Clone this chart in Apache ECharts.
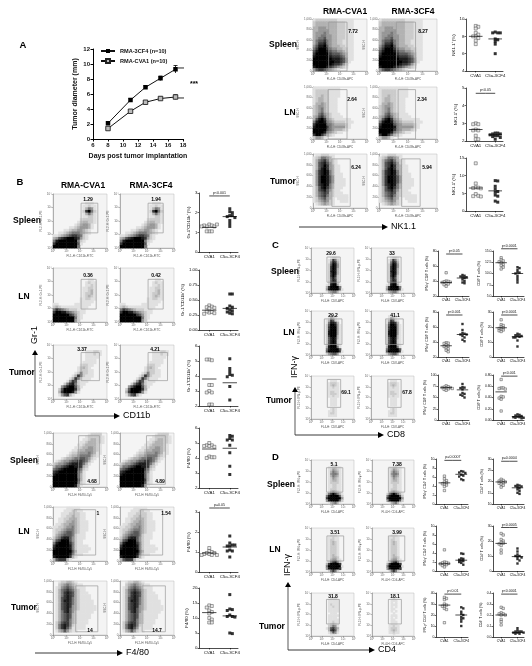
<!DOCTYPE html>
<html>
<head>
<meta charset="utf-8">
<style>
  html, body { margin: 0; padding: 0; background: #fff; }
  #main { width: 532px; height: 666px; }
</style>
<script src="https://cdn.jsdelivr.net/npm/echarts@6/dist/echarts.min.js"></script>
</head>
<body>
<div id="main"></div>
<script>
// panel A
var days = [8, 11, 13, 15, 17];
var cf4Diameter = [2.1, 5.2, 6.9, 8.1, 9.3];
var cva1Diameter = [1.4, 3.7, 4.9, 5.4, 5.6];
var cf4Err = [0.2, 0.2, 0.2, 0.3, 0.5];
var cva1Err = [0.1, 0.2, 0.2, 0.2, 0.3];

// strip plots, estimated off a low-res picture (CVA1 / C5a-3CF4)
// the smallest p labels and some tick labels in C and D are barely legible, best guesses
var grSpleenCva = [1.4, 1.35, 1.3, 1.3, 1.35, 1.4, 1.05, 1.05, 1.05, 1.3];
var grSpleenC5a = [2.2, 2.05, 2.0, 1.85, 1.85, 1.8, 1.75, 1.6, 1.45, 1.3];
var grLnCva = [0.41, 0.39, 0.38, 0.37, 0.36, 0.29, 0.3, 0.31, 0.28, 0.27];
var grLnC5a = [0.6, 0.6, 0.4, 0.38, 0.36, 0.33, 0.32, 0.3, 0.28, 0.27];
var grTumorCva = [5.1, 5.05, 5.1, 3.4, 3.4, 3.0, 2.9, 2.9, 2.1, 2.1];
var grTumorC5a = [5.15, 4.5, 4.3, 4.1, 4.05, 3.95, 3.3, 2.4];
var f4SpleenCva = [5.0, 4.85, 4.85, 4.8, 4.75, 4.8, 4.1, 4.05, 4.0, 4.05];
var f4SpleenC5a = [5.5, 5.45, 5.3, 5.2, 5.2, 4.85, 4.35, 3.45, 2.9];
var f4LnCva = [1.2, 1.05, 1.0, 0.95, 0.95, 0.9, 0.9, 0.85, 0.85, 0.85];
var f4LnC5a = [1.8, 1.45, 1.35, 1.3, 1.3, 1.35, 1.1, 1.05, 1.05, 0.75];
var f4TumorCva = [14.2, 14, 13.5, 12.5, 12, 11.5, 10, 9.5, 8.5, 8.5];
var f4TumorC5a = [17.8, 13, 12.8, 12.5, 11, 10.5, 10.5, 10.3, 5, 4.8];
var nkSpleenCva = [9.2, 9.1, 8.9, 8.4, 8.2, 8.0, 8.0, 7.8, 7.5, 7.1];
var nkSpleenC5a = [8.5, 8.4, 8.4, 8.4, 7.7, 7.6, 7.4, 7.1, 6];
var nkLnCva = [3.0, 2.95, 2.95, 2.65, 2.6, 2.6, 2.3, 2.1, 2.1];
var nkLnC5a = [2.45, 2.45, 2.4, 2.4, 2.35, 2.3, 2.3, 2.25, 2.2, 2.1];
var nkTumorCva = [13.5, 7.8, 6.7, 6.6, 6.5, 6.4, 4.8, 4.3, 4.2, 4.1];
var nkTumorC5a = [8.6, 8.5, 7, 6.2, 5.5, 5.3, 4.5, 4.2, 2.8, 2.5];
var cIfnSpleenCva = [51, 40, 39.5, 39, 38.5, 38, 37, 36, 35, 33];
var cIfnSpleenC5a = [48, 47, 46, 45, 45, 44, 42, 40, 38, 37];
var cCd8SpleenCva = [13.5, 13, 12.8, 12.6, 12.4, 12, 11.8, 11.4, 11];
var cCd8SpleenC5a = [11.4, 11.2, 10.8, 10.3, 10.2, 10, 9.5, 9, 8.5, 8.0];
var cIfnLnCva = [39, 38.5, 38, 36, 35, 34, 32, 31, 29, 27];
var cIfnLnC5a = [64, 56, 52, 51, 50, 50, 48, 46, 43, 41];
var cCd8LnCva = [24.8, 21.5, 21, 20, 19.5, 19, 18.5, 18, 17.5, 17];
var cCd8LnC5a = [15.5, 15, 14.5, 14, 14, 13.5, 13, 13, 11, 7];
var cIfnTumorCva = [76, 74, 73, 72, 72, 71, 70, 69, 68, 66];
var cIfnTumorC5a = [80, 73, 72, 71, 68, 60, 58, 56, 54, 50];
var cCd8TumorCva = [0.72, 0.57, 0.57, 0.56, 0.55, 0.42, 0.41, 0.39, 0.37, 0.16];
var cCd8TumorC5a = [0.1, 0.09, 0.08, 0.07, 0.06, 0.05, 0.05, 0.04, 0.04, 0.03];
var dIfnSpleenCva = [6.2, 5.6, 5.2, 4.9, 4.7, 4.5, 4.4, 4.2, 3.9, 3];
var dIfnSpleenC5a = [7.3, 7.2, 7, 6.9, 6.5, 6.3, 6.1, 5.5, 5.3];
var dCd4SpleenCva = [21, 20.5, 20.2, 20, 19.8, 19.5, 19.2, 18.8, 18.3, 17.5];
var dCd4SpleenC5a = [18.5, 18.2, 18, 17.8, 17.5, 17, 16.5, 15.8, 15, 14.5];
var dIfnLnCva = [4.7, 2.0, 1.9, 1.8, 1.7, 1.6, 1.5, 1.4, 1.2, 0.9];
var dIfnLnC5a = [3.9, 3.8, 2.8, 2.7, 2.5, 2.3, 2.2, 2.0, 1.8, 1.4];
var dCd4LnCva = [25, 24, 21, 20, 19, 18.5, 18, 17, 14, 12];
var dCd4LnC5a = [15, 13, 11, 10, 10, 9.5, 9, 8, 7, 5];
var dIfnTumorCva = [36, 35, 34, 30, 29, 28, 28, 26, 25, 13];
var dIfnTumorC5a = [27, 26, 23, 21, 20, 18, 17, 16, 14, 10];
var dCd4TumorCva = [0.27, 0.26, 0.22, 0.21, 0.21, 0.2, 0.2, 0.16, 0.14, 0.11];
var dCd4TumorC5a = [0.08, 0.06, 0.05, 0.05, 0.05, 0.04, 0.04, 0.04, 0.03, 0.03];

// flow cytometry: single events can't be read, so this is coarse density by eye
// 20x20, one digit per cell, 0 empty .. 9 black, top row first
var grSpleen = ['00000000000000000000','00000000000000000000','00000000000000000000','00000000000011100000','00000000000112110000','00000000000135410000','00000000000279520000','00000000000135310000','00000000000112210000','00000000001222210000','00000000012332210000','00000000123443100000','00000011234443100000','00001123344321000000','00112345554321000000','11234567765210000000','34678999874210000000','58999999952100000000','79999999961000000000','99999999950000000000'];
var grLn = ['00000000000000000000','00000000000000000000','00000000000000000000','00000000000000000000','00000000000001100000','00000000000012110000','00000000000011210000','00000000000112210000','00000000000112310000','00000000000122310000','00000000000123210000','00000000001122110000','00000000001111100000','11000000111111000000','23211111111110000000','57654322211100000000','79988654321100000000','99999976421000000000','99999999521000000000','99999999420000000000'];
var grTumor = ['00000000000000000000','00000000000000000000','00000000000011122100','00000000000011121100','00000000000011111000','00000000000011110000','00000000000111110000','00000000001221100000','00000000012321000000','00000000012221100000','00000000125221100000','00000001375211100000','00000013752111000000','00000147621110000000','00002578521100000000','00046899631000000000','00269999730000000000','00379998410000000000','00146731000000000000','00000000000000000000'];
var f4Spleen = ['00000000000001222200','00000000000012222210','00000000000112332210','00000000001123332210','00000000011233332100','00000000112334432100','00000001123344432100','00000012234445431100','00000123345555321000','00012334556654210000','01234456677653100000','23445678887531000000','35567899887320000000','56789999975210000000','78999999964100000000','89999999963100000000','99999999963100000000','99999999973100000000','99999999962100000000','99999999841000000000'];
var f4Ln = ['00000111110000000000','00001112211000000000','00011122221100000000','00011223221100000000','00112233321100000000','00112334321110000000','01123344321110000000','11223445321110000000','12234555321110000000','12345665321100000000','13456665211100000000','24578864211100000000','36799964211000000000','58999975211000000000','79999985211110000000','89999985211111000000','99999996311110000000','99999985211000000000','89999973100000000000','36777310000000000000'];
var f4Tumor = ['00122332100000000000','00234543211000000000','01245654211100000000','01356765321100000000','01357876321110000000','01357876321111000000','01367875321111000000','01368875321111100000','01367875321111100000','01367874321111110000','01367864321111110000','01357864211111100000','01356763211111000000','01356763211111000000','01356753211110000000','02467753211110000000','02578752111100000000','02578641111100000000','01346421100000000000','00000000000000000000'];
var nkSpleen = ['12222222211111100000','23333333322211100000','23333333322211100000','33444333322211100000','33444433322211100000','34445433322211100000','34455443322211100000','34556443322211100000','35667543322111100000','35778543322111100000','46889643332211100000','57999754433221100000','68999865544321100000','79999976665431100000','89999987776531100000','99999998887641100000','99999999887641000000','99999998776420000000','89999876543210000000','46776543210000000000'];
var nkLn = ['11111111110000000000','12222211110000000000','12222211110000000000','12232211110000000000','12332211100000000000','12332211100000000000','13343211100000000000','23443211100000000000','23453211100000000000','23453211100000000000','23564321110000000000','34675321111000000000','36897432111111000000','58998543222211100000','79999654333321000000','89999854444421000000','99999754333210000000','99998543211000000000','79975321000000000000','24431000000000000000'];
var nkTumor = ['01122211000000000000','12355431000000000000','13567532100000000000','13678642100000000000','13679743110000000000','13689743110000000000','14789853110000000000','14789853111000000000','14799864111000000000','14799864111100000000','14799864111100000000','14789853111100000000','13689753111000000000','13678642110000000000','13567632111000000000','13567532111110000000','12456431011110000000','12345421001110000000','01234321000000000000','00000000000000000000'];
var cd8Spleen = ['00000000000000000000','00000000000000000000','00000000000000000000','00000000000000000000','00000000012210000000','00000000137520000000','00000000158730000000','00000000269840000000','00000000279840000000','00000000279830000000','00000000289830000000','00000000279830000000','00000000279720000000','00000000268620000000','00000000268720000000','00000000278820000000','00000001289941000000','00000003799995000000','00000004899996100000','00000001345531000000'];
var cd8Ln = ['00000000000000000000','00000000000000000000','00000000111100000000','00000000143100000000','00000001376210000000','00000001588730000000','00000002699841000000','00000002799941000000','00000002799941000000','00000002899941000000','00000002899941000000','00000002799931000000','00000002689831000000','00000002689821000000','00000002689821000000','00000002799931000000','00000003899951000000','00000005899996000000','00000006999997100000','00000002456641000000'];
var cd8Tumor = ['00000000000000000000','00000000000000000000','00000000011100000000','00000000122210000000','00000000123210000000','00000000112110000000','00000000111110000000','00000000122110000000','00000000122210000000','00000000112110000000','00000000011100000000','00000000011100000000','00000000011100000000','00000000011100000000','00000000000000000000','00000000012100000000','00000000112100000000','00000000122100000000','00000000111100000000','00000000000000000000'];
var cd4Spleen = ['00000000000000000000','00000000000000000000','00000000000100000000','00000000112211000000','00000000124321000000','00000000135431000000','00000000145541000000','00000000135431000000','00000000124321000000','00000000123321000000','00000000122221000000','00000000112211000000','00000000112211000000','00000000122211000000','00000000134321000000','00000002579753100000','00000005899996200000','00000007999999400000','00000004899996200000','00000000134531000000'];
var cd4Ln = ['00000000000000000000','00000000000000000000','00000000000000000000','00000000011100000000','00000000112110000000','00000000122110000000','00000000123210000000','00000000123210000000','00000000122210000000','00000000122210000000','00000000122210000000','00000000122210000000','00000000123210000000','00000000123320000000','00000000134421000000','00000001257852000000','00000003799997000000','00000005999999100000','00000004899997000000','00000000257520000000'];
var cd4TumorA = ['00000000000000000000','00000000000000000000','00000000011100000000','00000000111110000000','00000000111110000000','00000000121110000000','00000000112110000000','00000000111110000000','00000000111110000000','00000000011100000000','00000000111110000000','00000000111100000000','00000000111110000000','00000000112110000000','00000000123210000000','00000000235410000000','00000001367530000000','00000000378620000000','00000000136410000000','00000000011000000000'];
var cd4TumorB = ['00000000000000000000','00000000000000000000','00000000001000000000','00000000011100000000','00000000010100000000','00000000011100000000','00000000010100000000','00000000011000000000','00000000010100000000','00000000001000000000','00000000011100000000','00000000010100000000','00000000011000000000','00000000011100000000','00000000011100000000','00000000112110000000','00000000122210000000','00000000123210000000','00000000112110000000','00000000001000000000'];

var stripLabels = ['CVA1', 'C5a-3CF4'];
var densityColors = ['#f4f4f4', '#e0e0e0', '#cbcbcb', '#b2b2b2', '#979797', '#787878', '#585858', '#383838', '#1b1b1b', '#000000'];

var grids = [], xAxes = [], yAxes = [], series = [], graphics = [], heatIdx = [];
var font = 'Arial, "Liberation Sans", sans-serif';

function txt(x, y, s, size, bold, rot, align, color) {
  graphics.push({
    type: 'text', x: x, y: y, z: 100, rotation: rot || 0, silent: true,
    style: { text: s, fontSize: size, fontFamily: font, fontWeight: bold ? 'bold' : 'normal',
      fill: color || '#000', textAlign: align || 'center', textVerticalAlign: 'middle' }
  });
}

function horArrow(x0, x1, y, label) {
  graphics.push({ type: 'line', z: 100, silent: true, shape: { x1: x0, y1: y, x2: x1 - 5, y2: y }, style: { stroke: '#222', lineWidth: 0.9 } });
  graphics.push({ type: 'polygon', z: 100, silent: true, shape: { points: [[x1 - 6, y - 3], [x1 - 6, y + 3], [x1, y]] }, style: { fill: '#000' } });
  txt(x1 + 3, y, label, 9, false, 0, 'left');
}

// axis arrows: corner at x,yBottom, up to yTop, right to xEnd
function arrows(x, yBottom, yTop, xEnd, hor, ver) {
  graphics.push({ type: 'line', z: 100, silent: true, shape: { x1: x, y1: yBottom, x2: x, y2: yTop + 4 }, style: { stroke: '#888', lineWidth: 1.4 } });
  graphics.push({ type: 'polygon', z: 100, silent: true, shape: { points: [[x - 3, yTop + 5], [x + 3, yTop + 5], [x, yTop]] }, style: { fill: '#000' } });
  horArrow(x, xEnd, yBottom, hor);
  txt(x, ver[1], ver[0], 9, false, Math.PI / 2);
}

function addGrid(x0, x1, y0, y1, extra) {
  var g = { left: x0, top: y0, width: x1 - x0, height: y1 - y0 };
  for (var k in extra) g[k] = extra[k];
  grids.push(g);
  return grids.length - 1;
}

function addFlow(box, matrix, gate, pct, px, py, xName, yName, ssc) {
  var g = addGrid(box[0], box[1], box[2], box[3], { show: true, backgroundColor: densityColors[0], borderColor: '#bbb', borderWidth: 0.5 });
  var yMax = ssc ? 1000 : 4;
  var cats = [];
  for (var i = 0; i < 20; i++) cats.push(i);
  var thin = { color: '#666', fontSize: 3, fontFamily: font, margin: 1.5 };
  var thinLine = { show: true, lineStyle: { color: '#777', width: 0.5 } };
  var thinTick = { show: true, length: 1.5, lineStyle: { color: '#777', width: 0.5 } };
  // category pair for the density cells
  xAxes.push({ type: 'category', gridIndex: g, data: cats, show: false, position: 'top' });
  yAxes.push({ type: 'category', gridIndex: g, data: cats, show: false, position: 'right' });
  var xCat = xAxes.length - 1, yCat = yAxes.length - 1;
  // value pair for ticks and the gate
  xAxes.push({ type: 'value', gridIndex: g, position: 'bottom', min: 0, max: 4, interval: 1, splitLine: { show: false },
    axisLine: thinLine, axisTick: thinTick, axisLabel: Object.assign({ formatter: function (v) { return '10' + '⁰¹²³⁴'.charAt(v); } }, thin),
    name: xName, nameLocation: 'middle', nameGap: 7, nameTextStyle: { fontSize: 3, color: '#555', fontFamily: font } });
  yAxes.push({ type: 'value', gridIndex: g, position: 'left', min: 0, max: yMax, interval: ssc ? 200 : 1, splitLine: { show: false },
    axisLine: thinLine, axisTick: thinTick,
    axisLabel: Object.assign({ formatter: ssc ? '{value}' : function (v) { return '10' + '⁰¹²³⁴'.charAt(v); } }, thin),
    name: yName, nameLocation: 'middle', nameGap: ssc ? 9 : 7, nameTextStyle: { fontSize: 3, color: '#555', fontFamily: font } });
  var xVal = xAxes.length - 1, yVal = yAxes.length - 1;

  var cells = [];
  matrix.forEach(function (row, r) {
    for (var c = 0; c < 20; c++) {
      var v = +row.charAt(c);
      if (v > 0) cells.push([c, 19 - r, v]);
    }
  });
  heatIdx.push(series.length);
  series.push({ type: 'heatmap', xAxisIndex: xCat, yAxisIndex: yCat, data: cells, silent: true, animation: false, progressive: 0 });

  var gx0 = gate[0] * 4, gx1 = gate[1] * 4, gyT = (1 - gate[2]) * yMax, gyB = (1 - gate[3]) * yMax;
  series.push({ type: 'line', xAxisIndex: xVal, yAxisIndex: yVal, symbol: 'none', silent: true, animation: false,
    data: [[gx0, gyT], [gx1, gyT], [gx1, gyB], [gx0, gyB], [gx0, gyT]],
    lineStyle: { color: '#999', width: 0.7 } });
  txt(px, py, pct, 5, true);
}

// simple bee swarm so tied values sit side by side
function swarm(values, center, min, max, w, h, size) {
  var pxX = w / 3.8, pxY = h / (max - min), placed = [];
  return values.map(function (v) {
    var off = 0, n = 0;
    while (placed.some(function (p) {
      var dx = (p[0] - (center + off)) * pxX, dy = (p[1] - v) * pxY;
      return dx * dx + dy * dy < size * size * 0.7;
    }) && n < 12) {
      n++;
      off = (n % 2 ? 1 : -1) * Math.ceil(n / 2) * size * 0.85 / pxX;
    }
    placed.push([center + off, v]);
    return [center + off, v];
  });
}

function addStrip(box, min, max, step, dec, yName, cva, c5a, means, p, pY) {
  var g = addGrid(box[0], box[1], box[2], box[3]);
  var w = box[1] - box[0], h = box[3] - box[2];
  var small = w < 35;
  var fs = small ? 3.4 : 4.4, mark = small ? 2.4 : 3;
  xAxes.push({ type: 'value', gridIndex: g, min: 0, max: 3.8, splitLine: { show: false },
    axisLine: { show: true, onZero: false, lineStyle: { color: '#000', width: 0.7 } },
    axisTick: { show: true, length: 1.5, customValues: [1, 3], lineStyle: { color: '#000', width: 0.6 } },
    axisLabel: { customValues: [1, 3], formatter: function (v) { return stripLabels[v === 1 ? 0 : 1]; }, fontSize: fs, fontFamily: font, color: '#111', margin: 2.5, hideOverlap: false } });
  yAxes.push({ type: 'value', gridIndex: g, min: min, max: max, interval: step, splitLine: { show: false },
    axisLine: { show: true, lineStyle: { color: '#000', width: 0.7 } },
    axisTick: { show: true, length: 1.5, lineStyle: { color: '#000', width: 0.6 } },
    axisLabel: { formatter: function (v) { return v.toFixed(dec); }, fontSize: fs, fontFamily: font, color: '#111', margin: 1.5 },
    name: yName, nameLocation: 'middle', nameGap: small ? (dec > 0 ? 10 : 7) : (dec > 1 ? 12 : 8), nameTextStyle: { fontSize: fs, fontFamily: font, color: '#111' } });
  var xi = xAxes.length - 1, yi = yAxes.length - 1;
  series.push({ type: 'scatter', xAxisIndex: xi, yAxisIndex: yi, symbol: 'rect', symbolSize: mark, clip: false, silent: true, animation: false,
    data: swarm(cva, 1, min, max, w, h, mark), itemStyle: { color: '#e6e6e6', borderColor: '#444', borderWidth: 0.6 } });
  series.push({ type: 'scatter', xAxisIndex: xi, yAxisIndex: yi, symbol: 'rect', symbolSize: mark, clip: false, silent: true, animation: false,
    data: swarm(c5a, 3, min, max, w, h, mark), itemStyle: { color: '#000' } });
  [[1, means[0]], [3, means[1]]].forEach(function (m) {
    series.push({ type: 'line', xAxisIndex: xi, yAxisIndex: yi, symbol: 'none', silent: true, animation: false, clip: false,
      data: [[m[0] - 0.7, m[1]], [m[0] + 0.7, m[1]]], lineStyle: { color: '#000', width: 0.7 } });
  });
  if (p) {
    series.push({ type: 'line', xAxisIndex: xi, yAxisIndex: yi, symbol: 'circle', symbolSize: 0, silent: true, animation: false, clip: false,
      data: [[1, pY], { value: [2, pY], label: { show: true, formatter: p, position: 'top', distance: 1, fontSize: 3.6, fontFamily: font, color: '#111' } }, [3, pY]],
      lineStyle: { color: '#000', width: 0.7 } });
  }
}

// ---- panel B ----
var bL = [53, 107], bR = [120, 174], gr = ['FL1-H: CD11b-FITC', 'FL2-H: Gr-1-PE'], f4 = ['FL2-H: F4/80-Cy5', 'SSC-H'];
addFlow([bL[0], bL[1], 194, 248], grSpleen, [.52, .83, .17, .72], '1.29', 88, 200, gr[0], gr[1]);
addFlow([bR[0], bR[1], 194, 248], grSpleen, [.52, .80, .17, .72], '1.94', 156, 200, gr[0], gr[1]);
addFlow([bL[0], bL[1], 268, 322], grLn, [.52, .80, .21, .76], '0.36', 88, 276, gr[0], gr[1]);
addFlow([bR[0], bR[1], 268, 322], grLn, [.52, .80, .21, .76], '0.42', 156, 276, gr[0], gr[1]);
addFlow([bL[0], bL[1], 345, 399], grTumor, [.52, .86, .14, .66], '3.37', 82, 350, gr[0], gr[1]);
addFlow([bR[0], bR[1], 345, 399], grTumor, [.52, .88, .14, .66], '4.21', 155, 350, gr[0], gr[1]);
addFlow([bL[0], bL[1], 433, 487], f4Spleen, [.475, .86, .05, .95], '4.68', 92, 482, f4[0], f4[1], true);
addFlow([bR[0], bR[1], 433, 487], f4Spleen, [.49, .84, .05, .95], '4.89', 160, 482, f4[0], f4[1], true);
addFlow([bL[0], bL[1], 507, 561], f4Ln, [.39, .79, .05, .89], '1', 98, 514, f4[0], f4[1], true);
addFlow([bR[0], bR[1], 507, 561], f4Ln, [.38, .79, .05, .89], '1.54', 166, 514, f4[0], f4[1], true);
addFlow([bL[0], bL[1], 581, 635], f4Tumor, [.42, .83, .09, .94], '14', 90, 631, f4[0], f4[1], true);
addFlow([bR[0], bR[1], 581, 635], f4Tumor, [.41, .84, .09, .94], '14.7', 157, 631, f4[0], f4[1], true);

var bS = [199, 238];
addStrip([bS[0], bS[1], 193, 252], 0, 3, 1, 0, 'Gr-1⁺CD11b⁺ (%)', grSpleenCva, grSpleenC5a, [1.25, 1.8], 'p<0.001', 2.85);
addStrip([bS[0], bS[1], 270, 330], 0, 1, 0.25, 2, 'Gr-1⁺CD11b⁺ (%)', grLnCva, grLnC5a, [0.33, 0.36]);
addStrip([bS[0], bS[1], 346, 406], 2, 6, 1, 0, 'Gr-1⁺CD11b⁺ (%)', grTumorCva, grTumorC5a, [3.8, 3.55]);
addStrip([bS[0], bS[1], 428, 488], 2, 6, 1, 0, 'F4/80 (%)', f4SpleenCva, f4SpleenC5a, [4.6, 4.65]);
addStrip([bS[0], bS[1], 512, 572], 0, 3, 1, 0, 'F4/80 (%)', f4LnCva, f4LnC5a, [0.95, 1.25], 'p=0.05', 3.2);
addStrip([bS[0], bS[1], 588, 648], 0, 20, 5, 0, 'F4/80 (%)', f4TumorCva, f4TumorC5a, [11.8, 10.7]);

// ---- NK1.1 ----
var nL = [313, 367], nR = [379, 437], nk = ['FL4-H: CD49b-APC', 'SSC-H'];
addFlow([nL[0], nL[1], 19, 71], nkSpleen, [.29, .63, .06, 1], '7.72', 353, 32, nk[0], nk[1], true);
addFlow([nR[0], nR[1], 19, 71], nkSpleen, [.30, .63, .06, 1], '8.27', 423, 32, nk[0], nk[1], true);
addFlow([nL[0], nL[1], 87, 139], nkLn, [.28, .63, .05, 1], '2.64', 352, 100, nk[0], nk[1], true);
addFlow([nR[0], nR[1], 87, 139], nkLn, [.33, .63, .05, 1], '2.34', 422, 100, nk[0], nk[1], true);
addFlow([nL[0], nL[1], 154, 208], nkTumor, [.35, .69, .09, .97], '6.24', 356, 168, nk[0], nk[1], true);
addFlow([nR[0], nR[1], 154, 208], nkTumor, [.39, .71, .09, .97], '5.94', 427, 168, nk[0], nk[1], true);
var nS = [466, 503];
addStrip([nS[0], nS[1], 19, 71], 4, 10, 2, 0, 'NK1.1⁺ (%)', nkSpleenCva, nkSpleenC5a, [8, 7.7]);
addStrip([nS[0], nS[1], 88, 141], 2, 5, 1, 0, 'NK1.1⁺ (%)', nkLnCva, nkLnC5a, [2.65, 2.35], 'p<0.05', 4.7);
addStrip([nS[0], nS[1], 158, 211], 0, 15, 5, 0, 'NK1.1⁺ (%)', nkTumorCva, nkTumorC5a, [6.5, 5.7]);

// ---- panel C ----
var cL = [311, 354], cR = [371, 414], c8 = ['FL4-H: CD8-APC', 'FL2-H: IFN-γ-PE'];
addFlow([cL[0], cL[1], 248, 293], cd8Spleen, [.37, .68, .2, .76], '29.6', 331, 254, c8[0], c8[1]);
addFlow([cR[0], cR[1], 248, 293], cd8Spleen, [.38, .70, .2, .76], '33', 392, 254, c8[0], c8[1]);
addFlow([cL[0], cL[1], 311, 355], cd8Ln, [.31, .72, .18, .76], '29.2', 333, 316, c8[0], c8[1]);
addFlow([cR[0], cR[1], 311, 355], cd8Ln, [.34, .75, .18, .76], '41.1', 395, 316, c8[0], c8[1]);
addFlow([cL[0], cL[1], 376, 419], cd8Tumor, [.38, .69, .08, .73], '69.1', 346, 393, c8[0], c8[1]);
addFlow([cR[0], cR[1], 376, 419], cd8Tumor, [.39, .70, .08, .73], '67.8', 407, 393, c8[0], c8[1]);
var c1 = [438, 469], c2 = [493, 524];
addStrip([c1[0], c1[1], 251, 296], 20, 80, 20, 0, 'IFN-γ⁺ CD8⁺ T cells (%)', cIfnSpleenCva, cIfnSpleenC5a, [38, 44], 'p<0.05', 76);
addStrip([c2[0], c2[1], 251, 296], 5, 15, 2.5, 1, 'CD8⁺ T cells (%)', cCd8SpleenCva, cCd8SpleenC5a, [12.4, 10], 'p<0.0001', 15.5);
addStrip([c1[0], c1[1], 312, 357], 20, 80, 20, 0, 'IFN-γ⁺ CD8⁺ T cells (%)', cIfnLnCva, cIfnLnC5a, [35, 50], 'p<0.001', 76);
addStrip([c2[0], c2[1], 312, 357], 0, 30, 10, 0, 'CD8⁺ T cells (%)', cCd8LnCva, cCd8LnC5a, [19.5, 13.5], 'p<0.0001', 28);
addStrip([c1[0], c1[1], 375, 420], 0, 100, 25, 0, 'IFN-γ⁺ CD8⁺ T cells (%)', cIfnTumorCva, cIfnTumorC5a, [72, 67]);
addStrip([c2[0], c2[1], 375, 420], 0, 0.8, 0.2, 2, 'CD8⁺ T cells (%)', cCd8TumorCva, cCd8TumorC5a, [0.5, 0.06], 'p<0.001', 0.78);

// ---- panel D ----
var dL = [311, 354], dR = [372, 414], c4 = ['FL4-H: CD4-APC', 'FL2-H: IFN-γ-PE'];
addFlow([dL[0], dL[1], 460, 504], cd4Spleen, [.36, .74, .175, .73], '5.1', 334, 465, c4[0], c4[1]);
addFlow([dR[0], dR[1], 460, 504], cd4Spleen, [.39, .78, .175, .73], '7.38', 397, 465, c4[0], c4[1]);
addFlow([dL[0], dL[1], 528, 572], cd4Ln, [.37, .76, .18, .75], '3.51', 335, 533, c4[0], c4[1]);
addFlow([dR[0], dR[1], 528, 572], cd4Ln, [.39, .78, .18, .75], '3.99', 397, 533, c4[0], c4[1]);
addFlow([dL[0], dL[1], 593, 636], cd4TumorA, [.36, .66, .15, .72], '31.8', 333, 597, c4[0], c4[1]);
addFlow([dR[0], dR[1], 593, 636], cd4TumorB, [.39, .70, .15, .72], '18.1', 395, 597, c4[0], c4[1]);
var d1 = [436, 468], d2 = [493, 524];
addStrip([d1[0], d1[1], 459, 504], 0, 10, 2, 0, 'IFN-γ⁺ CD4⁺ T cells (%)', dIfnSpleenCva, dIfnSpleenC5a, [4.7, 6.6], 'p=0.0007', 9.7);
addStrip([d2[0], d2[1], 459, 504], 10, 30, 5, 0, 'CD4⁺ T cells (%)', dCd4SpleenCva, dCd4SpleenC5a, [19.8, 17.2], 'p=0.0004', 29);
addStrip([d1[0], d1[1], 526, 571], 0, 10, 2, 0, 'IFN-γ⁺ CD4⁺ T cells (%)', dIfnLnCva, dIfnLnC5a, [1.6, 2.4]);
addStrip([d2[0], d2[1], 526, 571], 0, 30, 10, 0, 'CD4⁺ T cells (%)', dCd4LnCva, dCd4LnC5a, [18.4, 9.6], 'p<0.0005', 29);
addStrip([d1[0], d1[1], 593, 637], 0, 40, 10, 0, 'IFN-γ⁺ CD4⁺ T cells (%)', dIfnTumorCva, dIfnTumorC5a, [29, 20], 'p<0.01', 39);
addStrip([d2[0], d2[1], 593, 637], 0, 0.4, 0.1, 1, 'CD4⁺ T cells (%)', dCd4TumorCva, dCd4TumorC5a, [0.2, 0.04], 'p<0.0001', 0.39);

// ---- panel A ----
var gA = addGrid(93, 183, 49, 139);
var aLabel = { fontSize: 6, fontWeight: 'bold', fontFamily: font, color: '#111', margin: 3 };
var aName = { fontSize: 7, fontWeight: 'bold', fontFamily: font, color: '#111' };
xAxes.push({ type: 'value', gridIndex: gA, min: 6, max: 18, interval: 2, splitLine: { show: false },
  axisLine: { lineStyle: { color: '#000', width: 1 } }, axisTick: { show: true, length: 2.5, lineStyle: { color: '#000' } }, axisLabel: aLabel,
  name: 'Days post tumor implantation', nameLocation: 'middle', nameGap: 14, nameTextStyle: aName });
yAxes.push({ type: 'value', gridIndex: gA, min: 0, max: 12, interval: 2, splitLine: { show: false },
  axisLine: { show: true, lineStyle: { color: '#000', width: 1 } }, axisTick: { show: true, length: 2.5, lineStyle: { color: '#000' } }, axisLabel: aLabel,
  name: 'Tumor diameter (mm)', nameLocation: 'middle', nameGap: 14, nameTextStyle: aName });
var xA = xAxes.length - 1, yA = yAxes.length - 1;
function pairs(ys) { return days.map(function (d, i) { return [d, ys[i]]; }); }
function errorBars(ys, errs) {
  return {
    type: 'custom', xAxisIndex: xA, yAxisIndex: yA, silent: true, animation: false, clip: false,
    data: days.map(function (d, i) { return [d, ys[i] - errs[i], ys[i] + errs[i]]; }),
    renderItem: function (params, api) {
      var lo = api.coord([api.value(0), api.value(1)]), hi = api.coord([api.value(0), api.value(2)]);
      var st = { stroke: '#000', lineWidth: 0.8 };
      return { type: 'group', children: [
        { type: 'line', shape: { x1: lo[0], y1: lo[1], x2: hi[0], y2: hi[1] }, style: st },
        { type: 'line', shape: { x1: hi[0] - 2, y1: hi[1], x2: hi[0] + 2, y2: hi[1] }, style: st }
      ] };
    }
  };
}
series.push(errorBars(cf4Diameter, cf4Err));
series.push(errorBars(cva1Diameter, cva1Err));
series.push({ type: 'line', name: 'RMA-3CF4 (n=10)', xAxisIndex: xA, yAxisIndex: yA, data: pairs(cf4Diameter), symbol: 'rect', symbolSize: 4.5,
  animation: false, silent: true, lineStyle: { color: '#111', width: 1 }, itemStyle: { color: '#000' } });
series.push({ type: 'line', name: 'RMA-CVA1 (n=10)', xAxisIndex: xA, yAxisIndex: yA, data: pairs(cva1Diameter), symbol: 'rect', symbolSize: 4.5,
  animation: false, silent: true, lineStyle: { color: '#111', width: 1 }, itemStyle: { color: '#bbb', borderColor: '#222', borderWidth: 0.9 } });
// significance bracket
series.push({ type: 'line', xAxisIndex: xA, yAxisIndex: yA, symbol: 'none', clip: false, silent: true, animation: false,
  data: [[17.3, 9.47], [18.4, 9.47], [18.4, 5.47], [17.3, 5.47]], lineStyle: { color: '#111', width: 0.9 } });
txt(194, 84, '***', 7, true);

// ---- panel letters, headers, row names ----
txt(23, 45, 'A', 9.5, true);
txt(20, 182, 'B', 9.5, true);
txt(272, 245, 'C', 9.5, true, 0, 'left');
txt(272, 457, 'D', 9.5, true, 0, 'left');
txt(83, 186, 'RMA-CVA1', 8.5, true);
txt(151, 186, 'RMA-3CF4', 8.5, true);
txt(345, 12, 'RMA-CVA1', 8.5, true);
txt(413, 12, 'RMA-3CF4', 8.5, true);
[['Spleen', 27, 221], ['LN', 24, 297], ['Tumor', 22, 373], ['Spleen', 24, 461], ['LN', 24, 532], ['Tumor', 24, 608],
 ['Spleen', 283, 45], ['LN', 290, 113], ['Tumor', 283, 182],
 ['Spleen', 285, 272], ['LN', 289, 333], ['Tumor', 279, 401],
 ['Spleen', 281, 485], ['LN', 275, 550], ['Tumor', 272, 627]].forEach(function (r) { txt(r[1], r[2], r[0], 8.5, true); });

arrows(35, 416, 350, 120, 'CD11b', ['Gr-1', 335]);
horArrow(35, 123, 653, 'F4/80');
horArrow(299, 388, 227, 'NK1.1');
arrows(295, 435, 387, 384, 'CD8', ['IFN-γ', 367]);
arrows(288, 650, 582, 375, 'CD4', ['IFN-γ', 565]);

var option = {
  backgroundColor: '#fff',
  animation: false,
  textStyle: { fontFamily: font },
  grid: grids,
  xAxis: xAxes,
  yAxis: yAxes,
  series: series,
  graphic: graphics,
  visualMap: { show: false, type: 'continuous', min: 0, max: 9, dimension: 2, seriesIndex: heatIdx, inRange: { color: densityColors } },
  legend: {
    orient: 'vertical', left: 95, top: 43, itemGap: 4, itemWidth: 14, itemHeight: 5,
    data: ['RMA-3CF4 (n=10)', 'RMA-CVA1 (n=10)'], selectedMode: false,
    textStyle: { fontSize: 5.6, fontWeight: 'bold', fontFamily: font, color: '#111' }
  }
};
var chart = echarts.init(document.getElementById('main'), null, { renderer: 'canvas' });
chart.setOption(option);
</script>
</body>
</html>
